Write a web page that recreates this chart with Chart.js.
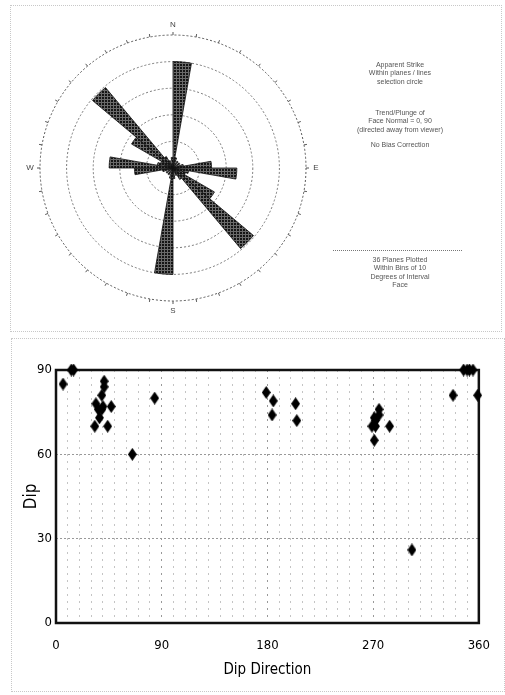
<!DOCTYPE html>
<html>
<head>
<meta charset="utf-8">
<script src="https://cdn.jsdelivr.net/npm/chart.js@4/dist/chart.umd.min.js"></script>
<style>
  body { margin: 0; background: #fff; }
  #page { position: relative; width: 505px; height: 695px; overflow: hidden; background: #fff; }
  .frame { position: absolute; border: 1px dotted #c8c8c8; }
  #rose { position: absolute; left: 23px; top: 18px; }
  #scatter { position: absolute; left: 0; top: 340px; }
  .note { position: absolute; left: 320px; width: 160px; text-align: center;
          font: 7px "Liberation Sans", Arial, sans-serif; color: #555; line-height: 8.4px; }
  #sep { position: absolute; left: 333px; top: 250px; width: 129px; border-top: 1px dotted #777; }
</style>
</head>
<body>
<div id="page">
  <div class="frame" style="left:10px;top:5px;width:490px;height:325px;"></div>
  <div class="frame" style="left:11px;top:338px;width:492px;height:352px;"></div>
  <canvas id="rose" width="300" height="300"></canvas>
  <div class="note" style="top:61px;">Apparent Strike<br>Within planes / lines<br>selection circle</div>
  <div class="note" style="top:109px;">Trend/Plunge of<br>Face Normal = 0, 90<br>(directed away from viewer)</div>
  <div class="note" style="top:141px;">No Bias Correction</div>
  <div id="sep"></div>
  <div class="note" style="top:256px;">36 Planes Plotted<br>Within Bins of 10<br>Degrees of Interval<br>Face</div>
  <canvas id="scatter" width="505" height="355"></canvas>
</div>
<script>
// rose diagram: 10 degree bins, clockwise from north, radius in ring units
var roseBins = [];
for (var b = 0; b < 360; b += 10) roseBins.push(b + '-' + (b + 10));
var roseValues = [4.0, 0.4, 0, 0.3, 0, 0.3, 0, 0.4, 1.45, 2.4, 0.6, 0.5, 1.8, 3.95, 0.5, 0.3, 0, 0.4,
                  4.0, 0.4, 0, 0.3, 0, 0.3, 0, 0.4, 1.45, 2.4, 0.6, 0.5, 1.8, 3.95, 0.5, 0.3, 0, 0.4];
var compassLabels = ['N', 'E', 'S', 'W'];

// pole scatter
var dipDirection = [6, 13, 15, 41, 41, 39, 34, 36, 39, 40, 47, 37, 33, 44, 65, 84,
                    179, 185, 184, 204, 205, 271, 275, 275, 272, 269, 272, 271, 284, 303,
                    338, 347, 350, 352, 355, 359];
var dip = [85, 90, 90, 86, 84, 81, 78, 76, 76, 77, 77, 73, 70, 70, 60, 80,
           82, 79, 74, 78, 72, 73, 76, 74, 72, 70, 70, 65, 70, 26,
           81, 90, 90, 90, 90, 81];
var xTickLabels = [0, 90, 180, 270, 360];
var yTickLabels = [0, 30, 60, 90];

document.addEventListener('DOMContentLoaded', function () {
    // hatched fill like the scan
    var pc = document.createElement('canvas');
    pc.width = 3; pc.height = 3;
    var p = pc.getContext('2d');
    p.fillStyle = '#151515'; p.fillRect(0, 0, 3, 3);
    p.fillStyle = '#6a6a6a'; p.fillRect(0, 0, 3, 1); p.fillRect(0, 0, 1, 3);
    var hatch = p.createPattern(pc, 'repeat');

    var compass = {
        id: 'compass',
        afterDraw: function (chart) {
            var s = chart.scales.r, ctx = chart.ctx;
            var cx = s.xCenter, cy = s.yCenter, R = s.drawingArea;
            ctx.save();
            ctx.strokeStyle = '#555';
            ctx.lineWidth = 1;
            for (var a = 0; a < 360; a += 10) {
                var t = a * Math.PI / 180;
                ctx.beginPath();
                ctx.moveTo(cx + R * Math.sin(t), cy - R * Math.cos(t));
                ctx.lineTo(cx + (R + 3) * Math.sin(t), cy - (R + 3) * Math.cos(t));
                ctx.stroke();
            }
            ctx.fillStyle = '#444';
            ctx.font = '8px "Liberation Sans", Arial, sans-serif';
            ctx.textAlign = 'center';
            ctx.textBaseline = 'middle';
            compassLabels.forEach(function (lab, i) {
                var t = i * Math.PI / 2;
                ctx.fillText(lab, cx + (R + 10) * Math.sin(t), cy - (R + 10) * Math.cos(t));
            });
            ctx.restore();
        }
    };

    new Chart(document.getElementById('rose'), {
        type: 'polarArea',
        data: {
            labels: roseBins,
            datasets: [{
                data: roseValues,
                backgroundColor: hatch,
                borderColor: '#111',
                borderWidth: 0.8
            }]
        },
        options: {
            responsive: false,
            animation: false,
            layout: { padding: 17 },
            plugins: { legend: { display: false }, tooltip: { enabled: false } },
            scales: {
                r: {
                    min: 0,
                    max: 5,
                    ticks: { display: false, stepSize: 1 },
                    grid: {
                        color: function (c) { return c.index === 5 ? '#555' : '#777'; },
                        lineWidth: 1
                    },
                    border: { dash: [2, 2] },
                    angleLines: { display: false },
                    pointLabels: { display: false }
                }
            }
        },
        plugins: [compass]
    });

    // elongated diamond marker
    var dm = document.createElement('canvas');
    dm.width = 9; dm.height = 13;
    var d = dm.getContext('2d');
    d.fillStyle = '#000';
    d.beginPath();
    d.moveTo(4.5, 0); d.lineTo(9, 6.5); d.lineTo(4.5, 13); d.lineTo(0, 6.5);
    d.closePath(); d.fill();

    var frame = {
        id: 'frame',
        beforeDatasetsDraw: function (chart) {
            var a = chart.chartArea, ctx = chart.ctx;
            ctx.save();
            ctx.strokeStyle = '#111';
            ctx.lineWidth = 2.5;
            ctx.strokeRect(a.left, a.top, a.right - a.left, a.bottom - a.top);
            ctx.restore();
        }
    };

    var tickFont = { family: '"DejaVu Sans Condensed", "Liberation Sans", Arial, sans-serif', size: 13 };

    new Chart(document.getElementById('scatter'), {
        type: 'scatter',
        data: {
            datasets: [{
                data: dipDirection.map(function (x, i) { return { x: x, y: dip[i] }; }),
                pointStyle: dm,
                pointRadius: 5,
                clip: false
            }]
        },
        options: {
            responsive: false,
            animation: false,
            layout: { padding: { left: 0, right: 16, top: 30, bottom: 0 } },
            plugins: { legend: { display: false }, tooltip: { enabled: false } },
            scales: {
                x: {
                    type: 'linear',
                    min: 0,
                    max: 360,
                    afterBuildTicks: function (s) {
                        var t = [];
                        for (var v = 0; v <= 360; v += 10) t.push({ value: v });
                        s.ticks = t;
                    },
                    afterFit: function (s) { s.height = 72; },
                    ticks: {
                        autoSkip: false,
                        maxRotation: 0,
                        padding: 15,
                        color: '#000',
                        font: tickFont,
                        callback: function (v) { return xTickLabels.indexOf(v) >= 0 ? v : ''; }
                    },
                    grid: {
                        drawTicks: false,
                        color: function (c) {
                            return c.tick && c.tick.value % 90 === 0 ? '#999' : '#c4c4c4';
                        }
                    },
                    border: { display: false, dash: [2, 5] },
                    title: {
                        display: true,
                        text: 'Dip Direction',
                        color: '#000',
                        font: { family: tickFont.family, size: 15 },
                        padding: { top: 0, bottom: 16 }
                    }
                },
                y: {
                    min: 0,
                    max: 90,
                    afterBuildTicks: function (s) {
                        s.ticks = yTickLabels.map(function (v) { return { value: v }; });
                    },
                    afterFit: function (s) { s.width = 56; },
                    ticks: { padding: 4, color: '#000', font: tickFont },
                    grid: { drawTicks: false, color: '#999' },
                    border: { display: false, dash: [2, 2] },
                    title: {
                        display: true,
                        text: 'Dip',
                        color: '#000',
                        font: { family: tickFont.family, size: 17 },
                        padding: { top: 21, bottom: 0 }
                    }
                }
            }
        },
        plugins: [frame]
    });
});
</script>
</body>
</html>
